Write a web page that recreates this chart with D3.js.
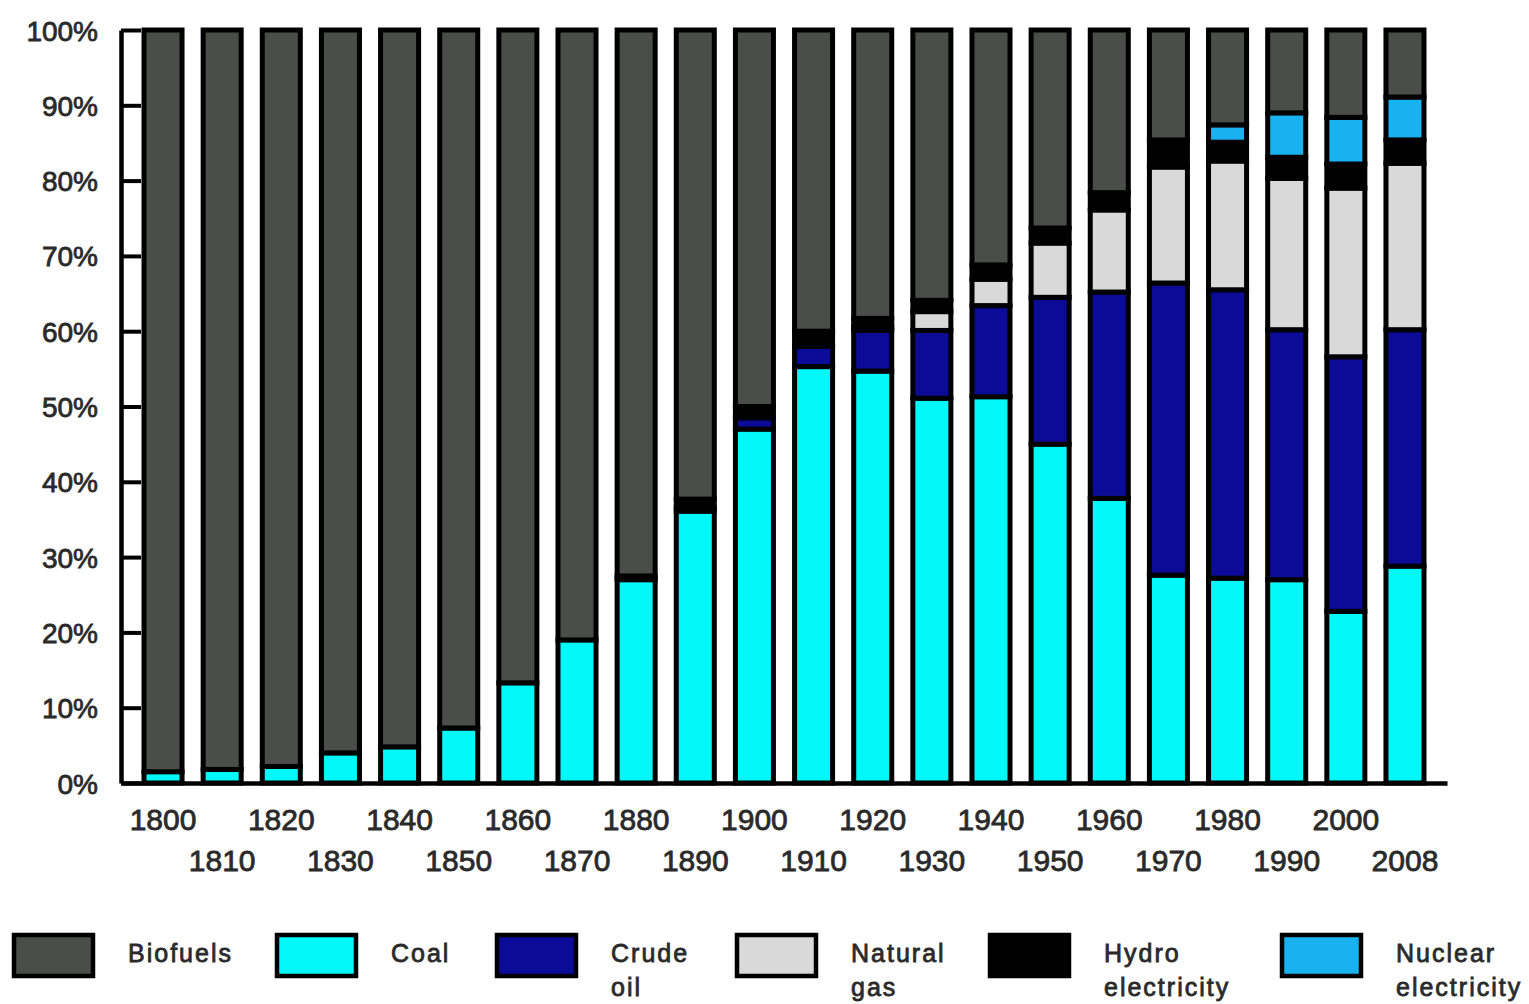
<!DOCTYPE html>
<html>
<head>
<meta charset="utf-8">
<script src="https://cdn.jsdelivr.net/npm/d3@7"></script>
<style>
  html, body { margin: 0; padding: 0; background: #fff; }
  svg { display: block; }
  text { font-family: "Liberation Sans", Arial, sans-serif; fill: #2a2a2a; stroke: #2a2a2a; stroke-width: 0.8px; }
</style>
</head>
<body>
<svg id="chart" width="1529" height="1004"></svg>
<script>
// ---- Data (share of world primary energy, %) ----
const years    = ["1800","1810","1820","1830","1840","1850","1860","1870","1880","1890","1900","1910","1920","1930","1940","1950","1960","1970","1980","1990","2000","2008"];
const coal     = [1.5, 1.8, 2.2, 4.0, 4.8, 7.3, 13.3, 19.0, 27.0, 36.1, 47.0, 55.3, 54.7, 51.1, 51.3, 45.0, 37.8, 27.6, 27.2, 27.0, 22.8, 28.8];
const crudeOil = [0, 0, 0, 0, 0, 0, 0, 0, 0, 0.5, 1.5, 2.7, 5.4, 9.0, 12.1, 19.5, 27.4, 38.8, 38.3, 33.2, 33.8, 31.4];
const naturalGas = [0, 0, 0, 0, 0, 0, 0, 0, 0, 0, 0, 0, 0.5, 2.5, 3.5, 7.2, 10.9, 15.4, 17.1, 20.1, 22.4, 22.1];
const hydro    = [0, 0, 0, 0, 0, 0, 0, 0, 0.5, 1.1, 1.5, 2.0, 1.1, 1.5, 1.9, 2.0, 2.3, 3.6, 2.5, 2.8, 3.2, 3.1];
const nuclear  = [0, 0, 0, 0, 0, 0, 0, 0, 0, 0, 0, 0, 0, 0, 0, 0, 0, 0, 2.3, 5.9, 6.2, 5.7];
const biofuels = [98.5, 98.2, 97.8, 96.0, 95.2, 92.7, 86.7, 81.0, 72.5, 62.3, 50.0, 40.0, 38.3, 35.9, 31.2, 26.3, 21.6, 14.6, 12.6, 11.0, 11.6, 8.9];
const yTicks   = [0, 10, 20, 30, 40, 50, 60, 70, 80, 90, 100];

const seriesKeys   = ["coal", "crude", "gas", "hydro", "nuclear", "biofuels"];
const seriesColors = ["#00f8f8", "#0b0b98", "#d9d9d9", "#000000", "#18b2f0", "#4a4d49"];
const legendOrder  = ["biofuels", "coal", "crude", "gas", "hydro", "nuclear"];
const legendLabels = [["Biofuels"], ["Coal"], ["Crude", "oil"], ["Natural", "gas"], ["Hydro", "electricity"], ["Nuclear", "electricity"]];

// ---- Build table ----
const table = years.map((y, i) => ({
  year: y, coal: coal[i], crude: crudeOil[i], gas: naturalGas[i],
  hydro: hydro[i], nuclear: nuclear[i], biofuels: biofuels[i]
}));
const stack = d3.stack().keys(seriesKeys)(table);
const color = d3.scaleOrdinal().domain(seriesKeys).range(seriesColors);

// ---- Layout ----
const svg = d3.select("#chart");
const x = d3.scaleBand().domain(years).range([121, 1447]).paddingInner(0.357).paddingOuter(0.389);
const y = d3.scaleLinear().domain([0, 100]).range([783, 30]);

// Bars
const layers = svg.append("g").selectAll("g").data(stack).join("g")
  .attr("fill", d => color(d.key));
layers.selectAll("rect")
  .data(d => d.filter(s => s[1] - s[0] > 0))
  .join("rect")
  .attr("x", d => x(d.data.year))
  .attr("width", x.bandwidth())
  .attr("y", d => y(d[1]))
  .attr("height", d => y(d[0]) - y(d[1]))
  .attr("stroke", "#000")
  .attr("stroke-width", 5);

// Y axis (ticks inside, labels left)
const yAxis = svg.append("g").attr("transform", "translate(121,0)")
  .call(d3.axisLeft(y).tickValues(yTicks).tickFormat(d => d + "%")
    .tickSizeInner(-20).tickSizeOuter(0).tickPadding(23));
yAxis.select(".domain").attr("stroke", "#000").attr("stroke-width", 4.5);
yAxis.selectAll(".tick line").attr("stroke", "#000").attr("stroke-width", 4);
yAxis.selectAll(".tick text").attr("font-size", 28).attr("dy", "0.36em");

// X axis (staggered labels)
const xAxis = svg.append("g").attr("transform", "translate(0,783)")
  .call(d3.axisBottom(x).tickSize(0).tickSizeOuter(0).tickPadding(0));
xAxis.select(".domain").attr("stroke", "#000").attr("stroke-width", 4.5);
xAxis.selectAll(".tick text")
  .attr("font-size", 30)
  .attr("dy", 0)
  .attr("y", (d, i) => i % 2 === 0 ? 47 : 88);

// Legend
const legendX = [12, 275, 495, 735, 988, 1280];
const legend = svg.append("g").selectAll("g").data(legendOrder).join("g")
  .attr("transform", (d, i) => `translate(${legendX[i]},933)`);
legend.append("rect")
  .attr("x", 2).attr("y", 2).attr("width", 79).attr("height", 41)
  .attr("fill", d => color(d)).attr("stroke", "#000").attr("stroke-width", 4.5);
legend.each(function(d, i) {
  const t = d3.select(this).append("text")
    .attr("x", 116).attr("y", 29).attr("font-size", 25).style("letter-spacing", "2px");
  legendLabels[i].forEach((line, j) => {
    t.append("tspan").attr("x", 116).attr("y", 29 + j * 34).text(line);
  });
});
</script>
</body>
</html>
